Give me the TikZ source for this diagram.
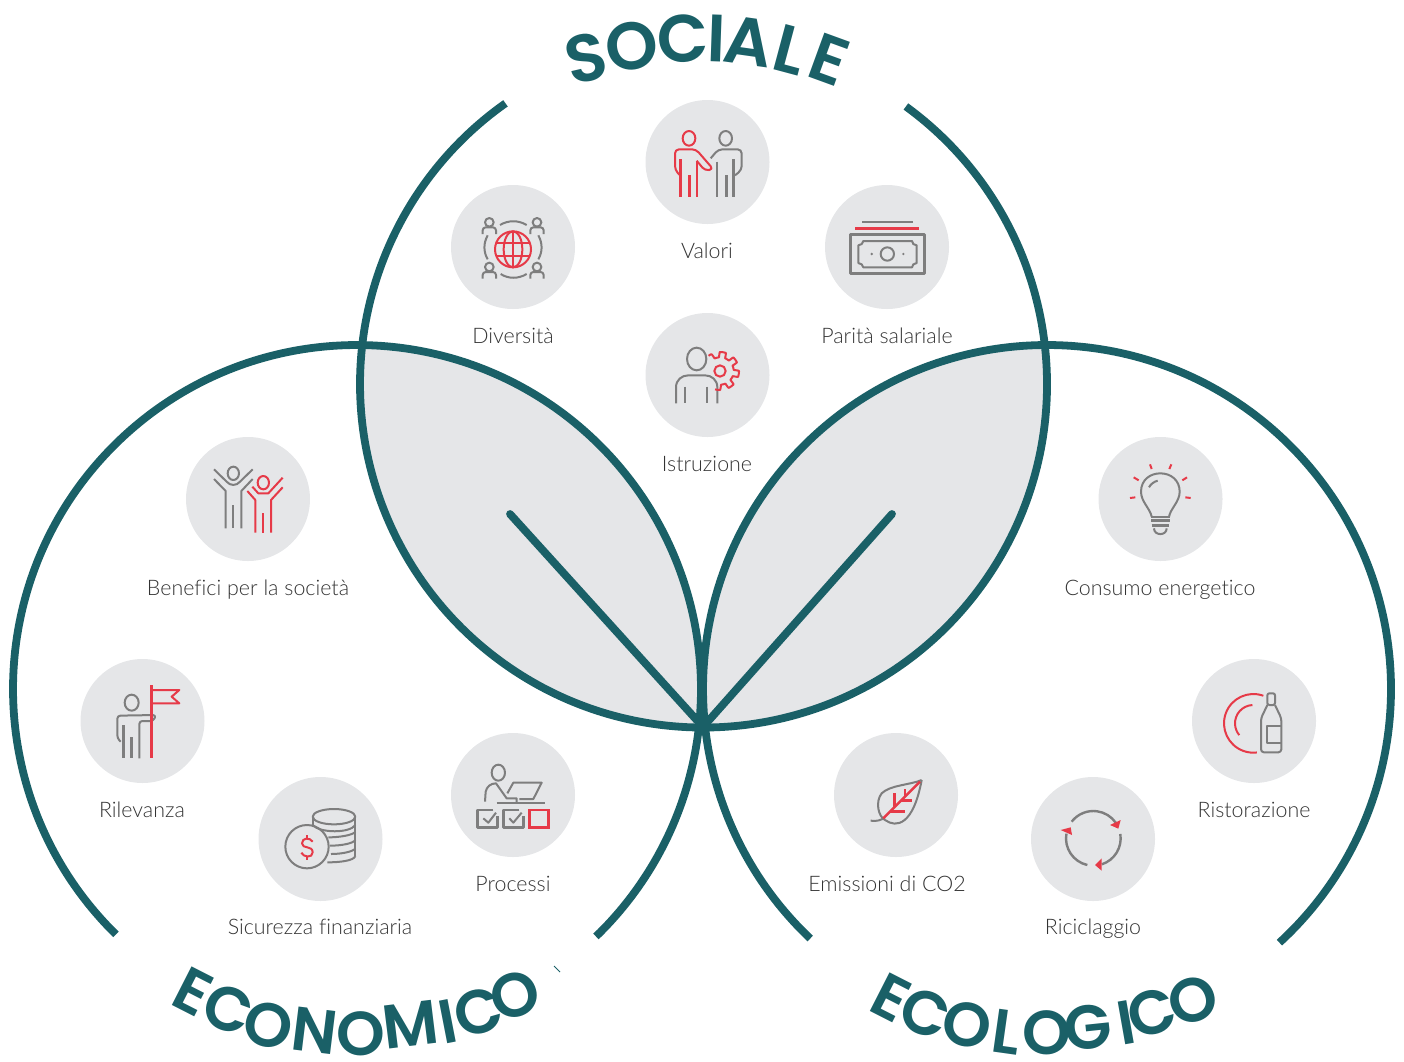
\documentclass[tikz,border=0pt]{standalone}
\usepackage{fontspec}
\setmainfont{Lato}
\newfontfamily\headf{Poppins SemiBold}
\newfontfamily\labf[Ligatures={NoCommon,NoRare,NoContextual}]{Lato Light}
\definecolor{teal}{HTML}{1A6067}
\definecolor{disk}{HTML}{E5E6E8}
\definecolor{gic}{HTML}{7E7E7E}
\definecolor{ric}{HTML}{E63A48}
\definecolor{txt}{HTML}{333333}
\tikzset{
 ring/.style={draw=teal,line width=7.8pt},
 vein/.style={draw=teal,line width=7.8pt,line cap=round},
 disc/.style={fill=disk},
 gi/.style={draw=gic,line width=2pt,line join=round},
 gt/.style={draw=gic,line width=3pt},
 gm/.style={draw=gic,line width=2.4pt,line join=round},
 ri/.style={draw=ric,line width=2pt,line join=round},
 rt/.style={draw=ric,line width=3.2pt},
 rm/.style={draw=ric,line width=2.4pt},
 lab/.style={font=\labf\fontsize{21.4}{24}\selectfont,text=txt,inner sep=0pt,anchor=base},
 hda/.style={font=\headf\fontsize{67}{70}\selectfont,text=teal,inner sep=0pt,anchor=center},
 hdb/.style={font=\headf\fontsize{62}{64}\selectfont,text=teal,inner sep=0pt,anchor=center},
}
\begin{document}
\begin{tikzpicture}[x=1pt,y=1pt,yscale=-1]
\useasboundingbox (0,0) rectangle (1404,1061);
% lens fills
\begin{scope}\clip (703.5,384) circle (343.5);\fill[disk] (357,689) circle (344);\fill[disk] (1047,689) circle (344);\end{scope}
% rings
\draw[ring] (703.5,384)+(-53.9:343.5) arc (-53.9:234.8:343.5);
\draw[ring] (357,689)+(134.5:344) arc (134.5:406:344);
\draw[ring] (1047,689)+(133.5:344) arc (133.5:407.5:344);
\coordinate (tip) at (703,727);
\coordinate (v1) at (510,514);
\coordinate (v2) at (892,514);
\draw[vein] (v1) -- (tip);
\draw[vein] (v2) -- (tip);
\draw[teal,line width=1pt] (554,966) -- (560,972);
% discs
\foreach \x/\y in {707.5/162,513/247,887/247,707.5/375,248/499,142.5/721,320.5/839,513/795,896/795,1093/839,1254/721,1160.5/499}
  \fill[disc] (\x,\y) circle (62);
% labels
\node[lab] (l1) at (707,258.5) {Valori};
\node[lab] (l2) at (513,343.5) {Diversità};
\node[lab] (l3) at (887,343.5) {Parità salariale};
\node[lab] (l4) at (707,471.5) {Istruzione};
\node[lab] (l5) at (248,595.5) {Benefici per la società};
\node[lab] (l6) at (142,817.5) {Rilevanza};
\node[lab] (l7) at (320,934.5) {Sicurezza finanziaria};
\node[lab] (l8) at (513,891.5) {Processi};
\node[lab] (l9) at (887,891.5) {Emissioni di CO2};
\node[lab] (l10) at (1093,934.5) {Riciclaggio};
\node[lab] (l11) at (1254,817.5) {Ristorazione};
\node[lab] (l12) at (1160,595.5) {Consumo energetico};
% headings
\foreach \n/\x/\y/\r/\c in {a/586/58/13/S,b/632/46/9/O,c/683/39/3/C,d/717/38/-2/I,e/748/42/-8/A,f/790/50/-15/L,g/829/60/-20/E}
  \node[hda,rotate=\r] (s\n) at (\x,\y) {\c};
\foreach \n/\x/\y/\r/\c in {a/193/992/-27/E,b/228/1009/-20/C,c/268/1025/-14/O,d/315/1031/-7/N,e/361/1034/0/O,f/411/1025/7/M,g/448/1022/11/I,h/478/1012/16/C,i/515/995/22/O}
  \node[hdb,rotate=\r] (e\n) at (\x,\y) {\c};
\foreach \n/\x/\y/\r/\c in {a/891/998/-27/E,b/925/1013/-20/C,c/967/1025/-13/O,d/1007/1032/-8/L,e/1047/1033/0/O,f/1088/1027/6/G,g/1126/1023/10/I,h/1152/1013/17/C,i/1193/1000/22/O}
  \node[hdb,rotate=\r] (g\n) at (\x,\y) {\c};
% icons region 1
\begin{scope}[shift={(440,90)},scale=1/3]
 \draw[ri] (747,145) ellipse (19 and 22);
 \draw[ri,rounded corners=4pt] (720,256) -- (705,240) -- (705,178) -- (768,178) -- (820,238) -- (795,242) -- (770,212);
 \draw[ri] (770,212) -- (770,322);
 \draw[rt] (722,208) -- (722,322);
 \draw[rt] (748,255) -- (748,322);
 \draw[gi] (857,145) ellipse (19 and 22);
 \draw[gi,rounded corners=4pt] (812,205) -- (835,178) -- (905,178) -- (905,240) -- (885,256);
 \draw[gi] (832,215) -- (832,322);
 \draw[gt] (858,255) -- (858,322);
 \draw[gt] (881,208) -- (881,322);
 % globe
 \draw[ri] (219,478) circle (54);
 \draw[ri] (219,478) ellipse (28 and 54);
 \draw[ri] (219,424) -- (219,532);
 \draw[ri] (168,460) -- (270,460);
 \draw[ri] (168,497) -- (270,497);
 \foreach \x/\y in {148/397,291/397,148/531,291/531}{
   \draw[gi] (\x,\y) circle (13);
   \draw[gi,rounded corners=3pt] (\x-20,\y+35) -- (\x-20,\y+15) -- (\x+20,\y+15) -- (\x+20,\y+35);
 }
 \draw[gi] (180,405) .. controls (205,390) and (235,390) .. (260,405);
 \draw[gi] (182,552) .. controls (205,567) and (235,567) .. (260,552);
 \draw[gi] (143,436) .. controls (130,460) and (130,485) .. (143,508);
 \draw[gi] (295,436) .. controls (308,460) and (308,485) .. (295,508);
\end{scope}
% icons region 2
\begin{scope}[shift={(640,180)},scale=1/3]
 \draw[gi] (667,126) -- (818,126);
 \draw[rt] (645,145) -- (836,145);
 \draw[gm] (631,164) rectangle (853,280);
 \draw[gi] (670,183) -- (816,183) .. controls (816,190) and (822,196) .. (830,196) -- (830,249) .. controls (822,249) and (816,256) .. (816,262) -- (670,262) .. controls (670,256) and (662,249) .. (655,249) -- (655,196) .. controls (662,196) and (670,190) .. (670,183) -- cycle;
 \draw[gi] (742,222) circle (20);
 \fill[gic] (695,222) circle (4) (790,222) circle (4);
 % Istruzione
 \draw[gi] (170,537) ellipse (29 and 34);
 \draw[gi] (108,670) -- (108,622) .. controls (108,600) and (125,586) .. (145,586) -- (195,586) .. controls (215,586) and (232,600) .. (232,622) -- (232,670);
 \draw[gi] (135,620) -- (135,670);
 \draw[gi] (202,620) -- (202,670);
 \draw[ri] (240,573) circle (17);
 \draw[ri] plot[domain=-127:105,samples=200,smooth] ({240+(49+8*max(-1,min(1,4*sin(8*\x+20))))*cos(\x)},{573+(49+8*max(-1,min(1,4*sin(8*\x+20))))*sin(\x)});
\end{scope}
% icons region 3
\begin{scope}[shift={(70,430)},scale=1/3]
 \draw[gi] (490,130) ellipse (17 and 20);
 \draw[gi] (432,118) -- (470,155) .. controls (480,168) and (500,168) .. (510,155) -- (548,118);
 \draw[gi] (432,147) -- (467,183) -- (467,295);
 \draw[gi] (548,147) -- (514,183) -- (514,295);
 \draw[gi] (490,226) -- (490,295);
 \draw[ri] (580,158) ellipse (17 and 20);
 \draw[ri] (547,170) -- (565,190) -- (595,190) -- (638,143);
 \draw[ri] (532,183) -- (556,210) -- (556,308);
 \draw[ri] (638,172) -- (603,210) -- (603,308);
 \draw[ri] (580,250) -- (580,308);
 % Rilevanza
 \draw[gi] (185,818) ellipse (21 and 24);
 \draw[gi,rounded corners=3pt] (152,935) -- (142,925) -- (142,857) -- (258,855) -- (250,873) -- (208,873) -- (208,985);
 \draw[gt] (160,885) -- (160,985);
 \draw[gt] (185,922) -- (185,985);
 \draw[rt] (244,765) -- (244,985);
 \draw[ri] (244,780) -- (328,780) -- (305,800) -- (328,820) -- (244,820);
\end{scope}
% icons region 4
\begin{scope}[shift={(250,730)},scale=1/3]
 \draw[gi] (171,350) circle (65);
 \draw[ri] (188,335) .. controls (180,322) and (156,322) .. (156,340) .. controls (156,358) and (188,345) .. (188,367) .. controls (188,385) and (160,382) .. (154,368);
 \draw[ri] (171,315) -- (171,325);
 \draw[ri] (171,380) -- (171,390);
 \draw[gi] (252,260) ellipse (64 and 23);
 \draw[gi] (188,262) -- (188,285);
 \draw[gi] (188,285) .. controls (210,310) and (300,310) .. (316,285);
 \draw[gi] (235,322) .. controls (270,322) and (310,315) .. (316,305);
 \draw[gi] (240,347) .. controls (275,347) and (310,340) .. (316,330);
 \draw[gi] (243,372) .. controls (275,372) and (310,365) .. (316,355);
 \draw[gi] (232,397) .. controls (270,397) and (312,392) .. (316,378);
 \draw[gi] (316,262) -- (316,378);
 % Processi
 \draw[gi] (745,128) ellipse (20 and 24);
 \draw[gi] (705,215) -- (707,185) .. controls (710,170) and (722,160) .. (738,160) -- (770,205) -- (800,205) -- (800,218);
 \draw[gi] (772,190) -- (790,158) -- (875,158) -- (850,207) -- (808,207);
 \draw[gi] (740,218) -- (885,218);
 \draw[gm] (730,240) -- (683,240) -- (683,292) -- (742,292) -- (742,258);
 \draw[gi] (700,265) -- (715,278) -- (738,248);
 \draw[gm] (808,240) -- (760,240) -- (760,292) -- (820,292) -- (820,258);
 \draw[gi] (778,265) -- (790,278) -- (815,248);
 \draw[rm] (838,240) rectangle (895,292);
\end{scope}
% icons region 5
\begin{scope}[shift={(830,730)},scale=1/3]
 \draw[gi] (275,150) .. controls (240,165) and (180,165) .. (155,190) .. controls (135,215) and (145,260) .. (165,270) .. controls (200,295) and (250,285) .. (275,150);
 \draw[gi] (122,272) .. controls (140,275) and (155,270) .. (165,262);
 \draw[rm] (160,265) -- (270,155);
 \draw[rm] (193,190) -- (193,232);
 \draw[rm] (225,178) -- (225,200);
 \draw[rm] (180,245) -- (225,245);
 \draw[rm] (213,212) -- (246,212);
 \draw[gm] (790,325)+(217.6:82) arc (217.6:325.3:82);
 \draw[gm] (790,325)+(-9.2:82) arc (-9.2:72:82);
 \draw[gm] (790,325)+(102.7:82) arc (102.7:190:82);
 \fill[ric] (872,270) -- (840,285) -- (865,296) -- cycle;
 \fill[ric] (692,300) -- (722,292) -- (726,315) -- cycle;
 \fill[ric] (795,405) -- (815,385) -- (815,422) -- cycle;
\end{scope}
% icons region 6
\begin{scope}[shift={(1090,430)},scale=1/3]
 \draw[gi] (185,260) .. controls (180,235) and (153,215) .. (153,185) .. controls (153,150) and (180,130) .. (211,130) .. controls (242,130) and (269,150) .. (269,185) .. controls (269,215) and (242,235) .. (237,260);
 \draw[gi] (177,172) .. controls (182,162) and (192,155) .. (203,152);
 \draw[gi] (184,260) -- (240,260);
 \draw[gt] (184,272) -- (240,272);
 \draw[gt] (185,286) -- (238,286);
 \draw[gi] (192,295) .. controls (192,318) and (230,318) .. (230,295);
 \draw[ri] (180,103) -- (185,117);
 \draw[ri] (244,103) -- (238,117);
 \draw[ri] (131,142) -- (146,151);
 \draw[ri] (291,142) -- (277,151);
 \draw[ri] (120,204) -- (136,202);
 \draw[ri] (302,204) -- (286,202);
 % Ristorazione
 \draw[ri] (490,880)+(-70:88) arc (-70:-277:88);
 \draw[ri] (490,880)+(267:55) arc (267:140:55);
 \draw[gi,rounded corners=2pt] (532,825) -- (532,790) -- (555,790) -- (555,825) -- cycle;
 \draw[gi,rounded corners=3pt] (532,825) -- (513,865) -- (513,967) -- (574,967) -- (574,865) -- (555,825);
 \draw[gi] (574,888) -- (532,888) -- (532,938) -- (574,938);
\end{scope}
\end{tikzpicture}
\end{document}
